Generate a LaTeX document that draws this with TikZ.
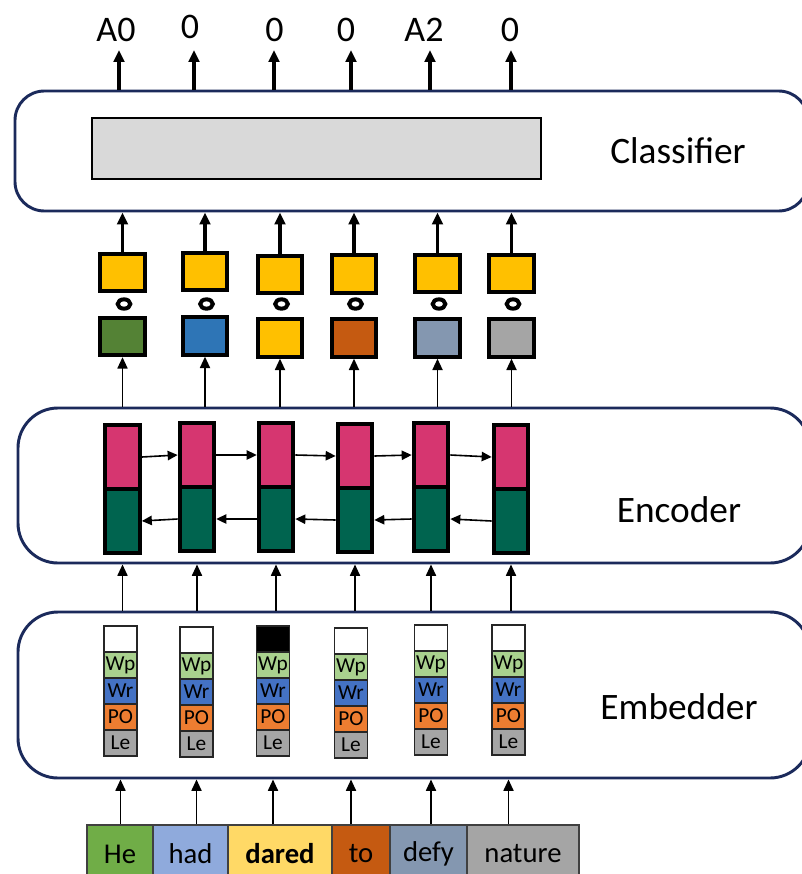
\documentclass[tikz,border=0pt]{standalone}
\usepackage{fontspec}
\setmainfont{Carlito}
\usetikzlibrary{arrows.meta,shapes.geometric}
\definecolor{navy}{HTML}{1B2A5B}
\definecolor{gbox}{HTML}{D9D9D9}
\definecolor{gold}{HTML}{FFC000}
\definecolor{dgreen}{HTML}{548235}
\definecolor{mblue}{HTML}{2E75B6}
\definecolor{rust}{HTML}{C55A11}
\definecolor{slate}{HTML}{8497B0}
\definecolor{mgray}{HTML}{A5A5A5}
\definecolor{pinkE}{HTML}{D63670}
\definecolor{greenE}{HTML}{00644F}
\definecolor{cWp}{HTML}{A9D18E}
\definecolor{cWr}{HTML}{4472C4}
\definecolor{cPO}{HTML}{ED7D31}
\definecolor{cLe}{HTML}{A5A5A5}
\definecolor{wHe}{HTML}{70AD47}
\definecolor{wHad}{HTML}{8FAADC}
\definecolor{wDared}{HTML}{FFD966}
\begin{document}
\begin{tikzpicture}[x=0.75pt,y=-0.75pt,
  panel/.style={draw=navy, line width=2.2pt, fill=white, inner sep=0},
  plabel/.style={font=\fontsize{28}{30}\selectfont, inner sep=0},
  olabel/.style={font=\fontsize{27}{29}\selectfont, inner sep=0},
  wlabel/.style={draw=black!75, line width=0.9pt, minimum height=43.5pt, inner sep=0, font=\fontsize{21.5}{23}\selectfont},
  sq/.style={draw=black, line width=3pt, minimum width=33.5pt, minimum height=28pt, inner sep=0},
  ring/.style={draw=black, ellipse, line width=3pt, minimum width=9.5pt, minimum height=7pt, inner sep=0},
  bar/.style={draw=black, line width=3pt, minimum width=26pt, minimum height=48pt, inner sep=0},
  seg/.style={draw=black!85, line width=1.4pt, minimum width=24.75pt, minimum height=19.5pt, inner sep=0, font=\fontsize{16}{16}\selectfont},
  bigarr/.style={line width=2.4pt, -{Triangle[length=9pt,width=8pt]}},
  medarr/.style={line width=1.3pt, -{Triangle[length=8.5pt,width=7.5pt]}},
  smallarr/.style={line width=1.2pt, -{Triangle[length=7.5pt,width=7pt]}}
]
\useasboundingbox (0,0) rectangle (802,874);

% panels
\node[panel, rounded corners=22pt, minimum width=594.75pt, minimum height=90pt] (clf) at (411.5,151) {};
\node[panel, rounded corners=30pt, minimum width=594pt, minimum height=116.25pt] (enc) at (414,485.5) {};
\node[panel, rounded corners=30pt, minimum width=594pt, minimum height=124.5pt] (emb) at (414,695) {};
\node[plabel] (clfl) at (678,151) {Classifier};
\node[plabel] (encl) at (679,510) {Encoder};
\node[plabel] (embl) at (679,707) {Embedder};

% classifier box
\node[draw=black, line width=1.6pt, fill=gbox, minimum width=336.75pt, minimum height=45.75pt, inner sep=0] (cbox) at (316.5,148.5) {};

% outputs
\foreach \i/\ax/\lx/\ly/\t in {1/119/116/30/A0, 2/194/190/27/0, 3/274/274.5/30/0, 4/351/346/30/0, 5/430/424/30/A2, 6/511/510/30/0} {
  \node[olabel] (o\i) at (\lx,\ly) {\t};
  \coordinate (oa\i) at (\ax,50);
  \draw[bigarr] (clf.north -| oa\i) -- (oa\i);
}

% yellow squares, rings, word squares
\foreach \i/\x/\yt/\yb/\c in {1/122.5/272.5/336.5/dgreen, 2/205/271.5/336/mblue, 3/280/274.5/338/gold, 4/354/274/338/rust, 5/437.5/273.5/338/slate, 6/511.5/273.5/338/mgray} {
  \node[sq, fill=gold] (ys\i) at (\x,\yt) {};
  \node[ring] (r\i) at (\x+1.5,304) {};
  \node[sq, fill=\c] (bs\i) at (\x,\yb) {};
  \draw[bigarr] (ys\i.north) -- (ys\i.north |- clf.south);
  \draw[medarr] (bs\i.south |- enc.north) -- (bs\i.south);
}

% encoder bars
\foreach \i/\x/\s in {1/122.5/489, 2/197/487, 3/276/487, 4/355/488, 5/431/487, 6/511/489} {
  \node[bar, fill=pinkE] (p\i) at (\x,\s-32) {};
  \node[bar, fill=greenE] (g\i) at (\x,\s+32) {};
  \draw[medarr] (g\i.south |- emb.north) -- (g\i.south |- enc.south);
}
\foreach \i/\j in {1/2, 2/3, 3/4, 4/5, 5/6} {
  \draw[smallarr] (p\i.east) -- (p\j.west);
  \draw[smallarr] (g\j.west) -- (g\i.east);
}

% embedder stacks
\foreach \i/\sx/\st/\tc in {1/120.5/625/white, 2/196.5/626/white, 3/273/625/black, 4/351/627/white, 5/431/624/white, 6/508.5/624/white} {
  \node[seg, fill=\tc] (t\i) at (\sx,\st+14) {};
  \node[seg, fill=cWp] (wp\i) at (\sx,\st+40) {Wp};
  \node[seg, fill=cWr] (wr\i) at (\sx,\st+66) {Wr};
  \node[seg, fill=cPO] (po\i) at (\sx,\st+92) {PO};
  \node[seg, fill=cLe] (le\i) at (\sx,\st+118) {Le};
}

% words
\node[wlabel, fill=wHe, minimum width=49.5pt] (w1) at (120,854) {He};
\node[wlabel, fill=wHad, minimum width=56.25pt] (w2) at (190.5,854) {had};
\node[wlabel, fill=wDared, minimum width=78pt] (w3) at (280,854) {\textbf{dared}};
\node[wlabel, fill=rust, minimum width=43.5pt] (w4) at (361,854) {to};
\node[wlabel, fill=slate, minimum width=57.75pt] (w5) at (428.5,854) {defy};
\node[wlabel, fill=mgray, minimum width=84pt] (w6) at (523,854) {nature};
\foreach \i in {1,...,6} {
  \draw[medarr] (le\i.south |- w\i.north) -- (le\i.south |- emb.south);
}
\end{tikzpicture}
\end{document}
